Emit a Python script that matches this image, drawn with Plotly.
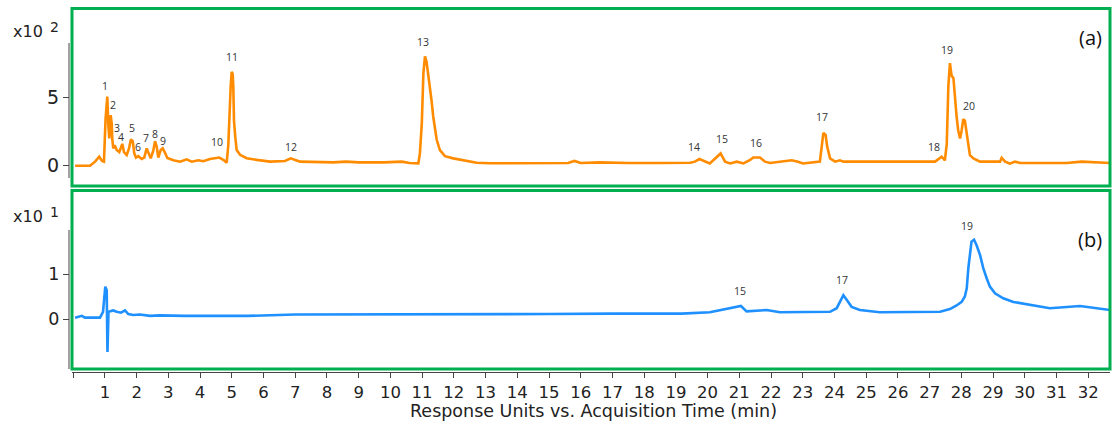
import plotly.graph_objects as go

# ---------------- data ----------------
# Panel (a): response x10^2 vs acquisition time (min)
top_time = [0.06, 0.53, 0.69, 0.82, 0.91, 0.97, 1.02, 1.075, 1.107, 1.138, 1.182, 1.214, 1.233,
            1.264, 1.308, 1.371, 1.453, 1.548, 1.601, 1.687, 1.759, 1.822, 1.876, 1.926, 1.98,
            2.052, 2.16, 2.24, 2.317, 2.368, 2.443, 2.525, 2.579, 2.632, 2.683, 2.758, 2.822,
            2.894, 2.967, 3.156, 3.367, 3.578, 3.736, 3.944, 4.10, 4.31, 4.606, 4.754, 4.839,
            4.89, 4.921, 4.965, 4.997, 5.028, 5.047, 5.069, 5.11, 5.154, 5.259, 5.47, 5.785,
            6.204, 6.677, 6.857, 7.024, 7.15, 7.5, 8.2, 8.6, 9.0, 9.8, 10.36, 10.6, 10.88,
            10.93, 10.99, 11.04, 11.09, 11.14, 11.19, 11.25, 11.30, 11.35, 11.41, 11.46, 11.56,
            11.72, 11.98, 12.30, 12.72, 13.14, 14.0, 15.0, 15.6, 15.8, 16.0, 16.6, 17.5, 18.5,
            19.45, 19.6, 19.74, 20.07, 20.23, 20.41, 20.55, 20.71, 20.92, 21.13, 21.34, 21.44,
            21.65, 21.81, 21.97, 22.65, 22.85, 23.01, 23.54, 23.60, 23.65, 23.72, 23.77, 23.86,
            24.02, 24.17, 24.28, 25.5, 26.5, 27.17, 27.38, 27.48, 27.54, 27.59, 27.64, 27.69,
            27.75, 27.80, 27.85, 27.90, 27.96, 28.01, 28.06, 28.11, 28.17, 28.22, 28.27, 28.38,
            28.59, 29.22, 29.27, 29.38, 29.53, 29.69, 29.85, 31.32, 31.79, 32.7]
top_resp = [0.0, 0.0, 0.3, 0.66, 0.35, 0.3, 3.4, 5.05, 3.0, 2.0, 3.7, 3.1, 1.9,
            1.27, 1.5, 1.15, 1.0, 1.6, 1.0, 0.78, 1.27, 1.93, 1.8, 0.9, 0.6,
            0.7, 0.5, 0.6, 1.27, 1.0, 0.54, 1.1, 1.8, 1.4, 0.6, 1.15, 1.27,
            0.95, 0.56, 0.4, 0.3, 0.47, 0.3, 0.4, 0.33, 0.5, 0.6, 0.4, 0.22,
            1.5, 3.6, 5.8, 6.87, 6.7, 5.8, 3.3, 2.1, 1.15, 0.8, 0.55, 0.43,
            0.3, 0.35, 0.54, 0.4, 0.3, 0.28, 0.25, 0.3, 0.25, 0.25, 0.3, 0.2, 0.18,
            0.9, 3.1, 6.75, 8.0, 7.6, 6.75, 5.8, 4.7, 3.6, 2.6, 1.9, 1.15,
            0.7, 0.54, 0.42, 0.22, 0.18, 0.2, 0.2, 0.2, 0.35, 0.2, 0.25, 0.2, 0.2,
            0.22, 0.3, 0.49, 0.17, 0.54, 0.9, 0.3, 0.17, 0.3, 0.17, 0.42, 0.6,
            0.6, 0.3, 0.2, 0.4, 0.3, 0.17, 0.3, 1.6, 2.4, 2.25, 1.4, 0.54,
            0.3, 0.4, 0.3, 0.3, 0.3, 0.3, 0.66, 0.4, 1.6, 5.8, 7.5, 6.6,
            6.4, 4.8, 3.6, 2.6, 2.0, 2.6, 3.4, 3.3, 2.37, 1.4, 0.78, 0.54,
            0.3, 0.3, 0.58, 0.3, 0.15, 0.3, 0.2, 0.2, 0.3, 0.2]

# Panel (b): response x10^1 vs acquisition time (min)
bot_time = [0.06, 0.27, 0.37, 0.845, 0.94, 1.012, 1.056, 1.065, 1.08, 1.113, 1.264, 1.371,
            1.507, 1.633, 1.737, 1.895, 2.1, 2.42, 2.74, 3.5, 4.5, 5.5, 7.0, 9.0, 12.0, 15.0,
            17.0, 19.18, 20.07, 20.55, 21.05, 21.23, 21.86, 22.28, 23.86, 24.07, 24.28, 24.39,
            24.54, 24.8, 25.43, 27.33, 27.64, 27.85, 28.01, 28.11, 28.17, 28.22, 28.27, 28.32,
            28.40, 28.48, 28.59, 28.69, 28.80, 28.90, 29.06, 29.32, 29.64, 30.06, 30.48, 30.79,
            31.74, 32.21, 32.7]
bot_resp = [0.03, 0.07, 0.03, 0.03, 0.16, 0.72, 0.64, -0.5, -0.73, 0.16, 0.19, 0.16,
            0.14, 0.19, 0.11, 0.09, 0.1, 0.07, 0.08, 0.07, 0.07, 0.07, 0.1, 0.1, 0.1, 0.11,
            0.12, 0.12, 0.15, 0.22, 0.29, 0.17, 0.2, 0.15, 0.16, 0.24, 0.53, 0.42,
            0.27, 0.2, 0.15, 0.16, 0.22, 0.3, 0.38, 0.5, 0.68, 1.13, 1.5, 1.72,
            1.76, 1.64, 1.42, 1.13, 0.9, 0.72, 0.57, 0.46, 0.38, 0.33, 0.29, 0.24,
            0.29, 0.24, 0.2]

top_peak_names = [str(i) for i in range(1, 21)]
top_peak_time = [1.01, 1.245, 1.37, 1.51, 1.84, 2.05, 2.29, 2.58, 2.83, 4.52, 5.02, 6.87,
                 11.04, 19.58, 20.44, 21.52, 23.6, 27.15, 27.56, 28.24]
bot_peak_names = ["15", "17", "19"]
bot_peak_time = [21.02, 24.25, 28.18]

x_ticks = list(range(0, 33))
x_ticktext = [""] + [str(i) for i in range(1, 33)]

# ---------------- layout helpers (pixel -> paper) ----------------
W, H = 1113, 430
ML, MR, MT, MB = 69, 3, 8, 58
PW = W - ML - MR
PH = H - MT - MB


def px_x(p):
    return (p - ML) / PW


def px_y(p):
    return (H - MB - p) / PH


ORANGE = "#FF8C00"
BLUE = "#1E90FF"
GREEN = "#00B050"
AXC = "#444444"

fig = go.Figure()
fig.add_trace(go.Scatter(x=top_time, y=top_resp, mode="lines",
                         line=dict(color=ORANGE, width=2.6), xaxis="x", yaxis="y",
                         hoverinfo="skip"))
fig.add_trace(go.Scatter(x=bot_time, y=bot_resp, mode="lines",
                         line=dict(color=BLUE, width=2.6), xaxis="x", yaxis="y2",
                         hoverinfo="skip"))

label_font = dict(family="Open Sans", size=10.5, color="#333333")
top_label_h = [5.83, 4.42, 2.76, 2.08, 2.73, 1.39, 2.0, 2.32, 1.81, 1.71, 7.97, 1.39,
               9.02, 1.39, 1.93, 1.64, 3.54, 1.39, 8.46, 4.36]
bot_label_h = [0.63, 0.87, 2.07]

annotations = []
for name, t, h in zip(top_peak_names, top_peak_time, top_label_h):
    annotations.append(dict(x=t, y=h, xref="x", yref="y", text=name, showarrow=False,
                            font=label_font, xanchor="center", yanchor="middle"))
for name, t, h in zip(bot_peak_names, bot_peak_time, bot_label_h):
    annotations.append(dict(x=t, y=h, xref="x", yref="y2", text=name, showarrow=False,
                            font=label_font, xanchor="center", yanchor="middle"))

mult_font = dict(family="DejaVu Sans", size=16, color="#222222")
sup_font = dict(family="DejaVu Sans", size=14, color="#222222")
annotations += [
    dict(x=px_x(27.5), y=px_y(31), xref="paper", yref="paper", text="x10", showarrow=False,
         font=mult_font, xanchor="center", yanchor="middle"),
    dict(x=px_x(54.2), y=px_y(26.7), xref="paper", yref="paper", text="2", showarrow=False,
         font=sup_font, xanchor="center", yanchor="middle"),
    dict(x=px_x(27.5), y=px_y(216.7), xref="paper", yref="paper", text="x10", showarrow=False,
         font=mult_font, xanchor="center", yanchor="middle"),
    dict(x=px_x(54.2), y=px_y(211.7), xref="paper", yref="paper", text="1", showarrow=False,
         font=sup_font, xanchor="center", yanchor="middle"),
    dict(x=px_x(1090), y=px_y(37), xref="paper", yref="paper", text="(a)", showarrow=False,
         font=dict(family="Open Sans", size=20, color="#111111"), xanchor="center",
         yanchor="middle"),
    dict(x=px_x(1090), y=px_y(240), xref="paper", yref="paper", text="(b)", showarrow=False,
         font=dict(family="Open Sans", size=20, color="#111111"), xanchor="center",
         yanchor="middle"),
    dict(x=px_x(593), y=px_y(411), xref="paper", yref="paper",
         text="Response Units vs. Acquisition Time (min)", showarrow=False,
         font=dict(family="DejaVu Sans", size=17.5, color="#222222"), xanchor="center",
         yanchor="middle"),
]

shapes = [
    dict(type="rect", xref="paper", yref="paper", x0=px_x(72), x1=px_x(1110),
         y0=px_y(186), y1=px_y(8.5), line=dict(color=GREEN, width=3), fillcolor="rgba(0,0,0,0)"),
    dict(type="rect", xref="paper", yref="paper", x0=px_x(72), x1=px_x(1110),
         y0=px_y(369), y1=px_y(190.5), line=dict(color=GREEN, width=3), fillcolor="rgba(0,0,0,0)"),
    dict(type="line", xref="paper", yref="y", x0=0, x1=0, y0=-0.9, y1=8.97,
         line=dict(color=AXC, width=1)),
    dict(type="line", xref="paper", yref="y2", x0=0, x1=0, y0=-1.111, y1=1.98,
         line=dict(color=AXC, width=1)),
]

fig.update_layout(
    width=W, height=H,
    margin=dict(l=ML, r=MR, t=MT, b=MB),
    paper_bgcolor="white", plot_bgcolor="white",
    showlegend=False,
    xaxis=dict(domain=[px_x(72), 1], range=[-0.0378, 32.686], anchor="free", position=0,
               showline=True, linecolor=AXC, linewidth=1, ticks="outside", ticklen=5,
               tickcolor=AXC, tickwidth=1, tickvals=x_ticks, ticktext=x_ticktext,
               tickfont=dict(family="DejaVu Sans", size=16.5, color="#222222"),
               showgrid=False, zeroline=False),
    yaxis=dict(domain=[px_y(186), 1], range=[-1.48, 11.53], anchor="free", position=0,
               showline=False, ticks="outside", ticklen=6, tickcolor=AXC, tickwidth=1,
               tickvals=[0, 5], ticktext=["0", "5"],
               tickfont=dict(family="DejaVu Sans", size=19, color="#222222"),
               showgrid=False, zeroline=False),
    yaxis2=dict(domain=[px_y(369), px_y(190)], range=[-1.111, 2.867], anchor="free",
                position=0, showline=False, ticks="outside", ticklen=6, tickcolor=AXC,
                tickwidth=1, tickvals=[0, 1], ticktext=["0", "1"],
                tickfont=dict(family="DejaVu Sans", size=17.5, color="#222222"),
                showgrid=False, zeroline=False),
    annotations=annotations,
    shapes=shapes,
)

fig.write_html("out.html", config={"displayModeBar": False},
               post_script="document.body.style.margin='0px';document.body.style.overflow='hidden';")
